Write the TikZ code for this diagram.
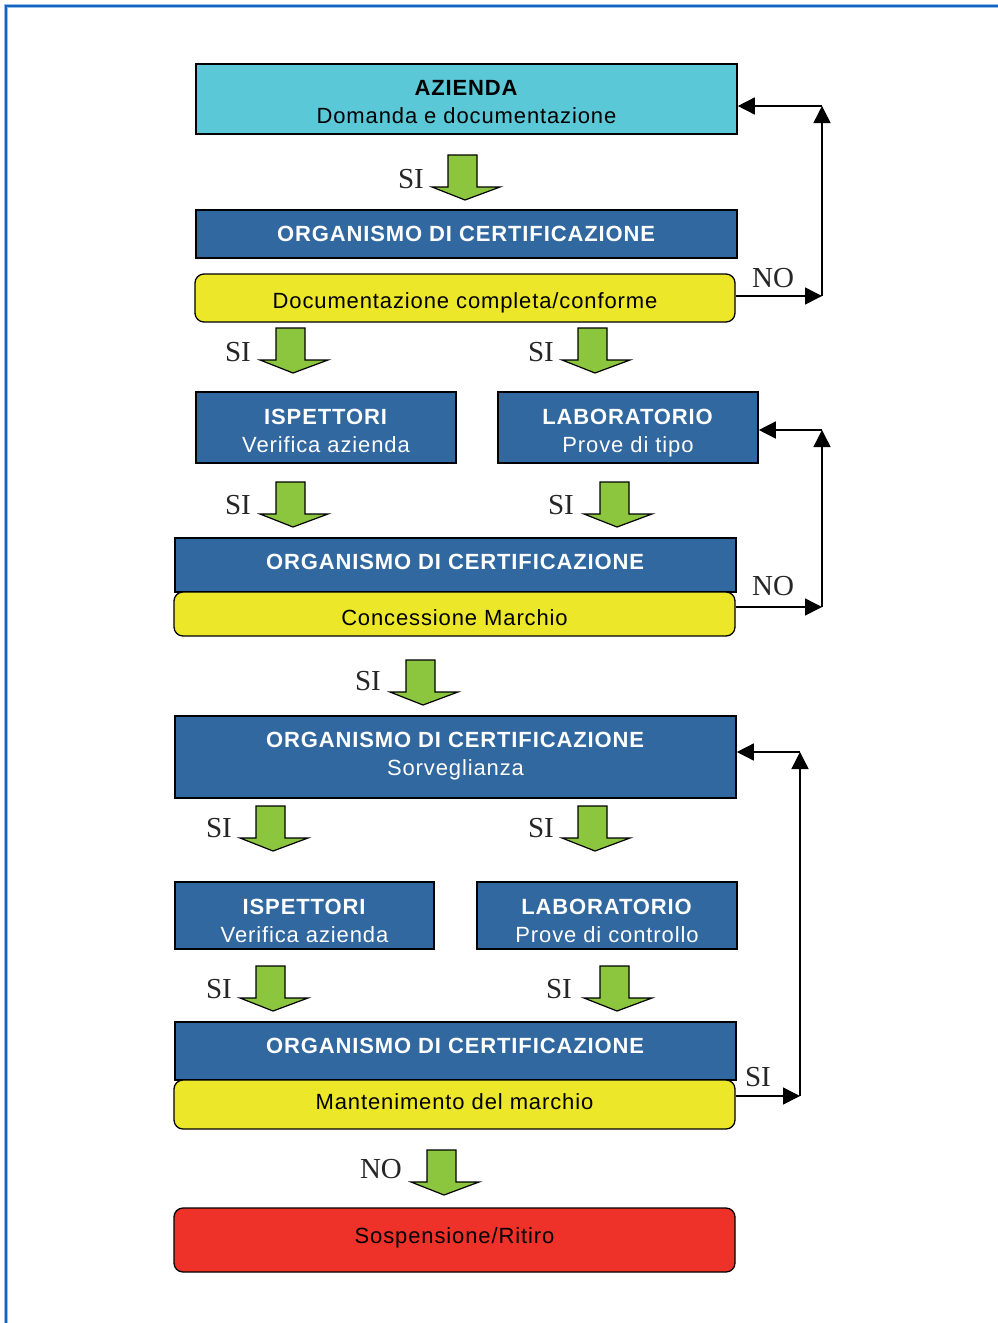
\documentclass[tikz,border=0pt]{standalone}
\usepackage{fontspec}
\setmainfont{Liberation Serif}
\newfontfamily\boxfont[LetterSpace=4]{Liberation Sans}
\usetikzlibrary{arrows.meta}
\definecolor{cyanbox}{RGB}{91,200,216}
\definecolor{bluebox}{RGB}{49,104,160}
\definecolor{yellowbox}{RGB}{237,231,41}
\definecolor{greenarr}{RGB}{140,198,63}
\definecolor{redbox}{RGB}{238,50,41}
\definecolor{frameblue}{RGB}{16,100,190}
\definecolor{framelight}{RGB}{150,190,230}
\tikzset{
  box/.style={draw=black, line width=1.6pt, inner sep=0pt},
  bluebx/.style={box, fill=bluebox},
  yelbx/.style={box, fill=yellowbox, rounded corners=9pt, line width=1.3pt},
  txt/.style={inner sep=0pt, text height=16pt, text depth=0pt, anchor=center,
    font=\boxfont\fontsize{22}{28}\selectfont},
  wtxt/.style={txt, text=white},
  lbl/.style={font=\fontsize{29}{29}\selectfont, text=black!85, inner sep=0pt},
  loop/.style={line width=1.5pt, -{Triangle[length=17pt,width=17pt]}},
  garr/.style={fill=greenarr, draw=black, line width=1.2pt, line join=miter},
}
\newcommand{\grarrow}[2]{% #1 = left x of head, #2 = top y
  \draw[garr] (#1+16,#2) -- (#1+45,#2) -- (#1+45,#2+32) -- (#1+68,#2+32)
     -- (#1+33,#2+45) -- (#1,#2+32) -- (#1+16,#2+32) -- cycle;}
\begin{document}
\begin{tikzpicture}[x=1pt,y=-1pt]
\useasboundingbox (0,0) rectangle (997,1323);
\fill[white] (0,0) rectangle (997,1323);
% frame
\draw[framelight, line width=4pt] (6,1330) -- (6,6) -- (1000,6);
\draw[frameblue, line width=2.4pt] (6,1330) -- (6,6) -- (1000,6);

% boxes
\node[box, fill=cyanbox, minimum width=541pt, minimum height=70pt] (az) at (466.5,99) {};
\node[txt] (az1) at (466.5,87) {\textbf{AZIENDA}};
\node[txt] (az2) at (466.5,115) {Domanda e documentazione};

\node[bluebx, minimum width=541pt, minimum height=48pt] (oc1) at (466.5,234) {};
\node[wtxt] (oc1t) at (466.5,233) {\textbf{ORGANISMO DI CERTIFICAZIONE}};
\node[yelbx, minimum width=540pt, minimum height=48pt] (doc) at (465,298) {};
\node[txt] (doct) at (465,300) {Documentazione completa/conforme};

\node[bluebx, minimum width=260pt, minimum height=71pt] (isp1) at (326,427.5) {};
\node[wtxt] (isp1a) at (326,416) {\textbf{ISPETTORI}};
\node[wtxt] (isp1b) at (326,444) {Verifica azienda};
\node[bluebx, minimum width=260pt, minimum height=71pt] (lab1) at (628,427.5) {};
\node[wtxt] (lab1a) at (628,416) {\textbf{LABORATORIO}};
\node[wtxt] (lab1b) at (628,444) {Prove di tipo};

\node[bluebx, minimum width=561pt, minimum height=54pt] (oc2) at (455.5,565) {};
\node[wtxt] (oc2t) at (455.5,561) {\textbf{ORGANISMO DI CERTIFICAZIONE}};
\node[yelbx, minimum width=561pt, minimum height=44pt] (conc) at (454.5,614) {};
\node[txt] (conct) at (454.5,617) {Concessione Marchio};

\node[bluebx, minimum width=561pt, minimum height=82pt] (oc3) at (455.5,757) {};
\node[wtxt] (oc3a) at (455.5,739) {\textbf{ORGANISMO DI CERTIFICAZIONE}};
\node[wtxt] (oc3b) at (455.5,767) {Sorveglianza};

\node[bluebx, minimum width=259pt, minimum height=67pt] (isp2) at (304.5,915.5) {};
\node[wtxt] (isp2a) at (304.5,906) {\textbf{ISPETTORI}};
\node[wtxt] (isp2b) at (304.5,934) {Verifica azienda};
\node[bluebx, minimum width=260pt, minimum height=67pt] (lab2) at (607,915.5) {};
\node[wtxt] (lab2a) at (607,906) {\textbf{LABORATORIO}};
\node[wtxt] (lab2b) at (607,934) {Prove di controllo};

\node[bluebx, minimum width=561pt, minimum height=58pt] (oc4) at (455.5,1051) {};
\node[wtxt] (oc4t) at (455.5,1045) {\textbf{ORGANISMO DI CERTIFICAZIONE}};
\node[yelbx, minimum width=561pt, minimum height=49pt] (mant) at (454.5,1104.5) {};
\node[txt] (mantt) at (454.5,1101) {Mantenimento del marchio};

\node[yelbx, fill=redbox, minimum width=561pt, minimum height=64pt] (sosp) at (454.5,1240) {};
\node[txt] (sospt) at (454.5,1235) {Sospensione/Ritiro};

% green arrows and labels
\grarrow{432}{155}
\node[lbl] (s1) at (411,179) {SI};
\grarrow{260}{328}
\node[lbl] (s2) at (238,352) {SI};
\grarrow{562}{328}
\node[lbl] (s3) at (541,352) {SI};
\grarrow{260}{482}
\node[lbl] (s4) at (238,505) {SI};
\grarrow{584}{482}
\node[lbl] (s5) at (561,505) {SI};
\grarrow{390}{660}
\node[lbl] (s6) at (368,681) {SI};
\grarrow{240}{806}
\node[lbl] (s7) at (219,828) {SI};
\grarrow{562}{806}
\node[lbl] (s8) at (541,828) {SI};
\grarrow{240}{966}
\node[lbl] (s9) at (219,989) {SI};
\grarrow{584}{966}
\node[lbl] (s10) at (559,989) {SI};
\grarrow{411}{1150}
\node[lbl] (n3) at (381,1169) {NO};

% feedback loops
\coordinate (a1) at (822,296);
\coordinate (a2) at (822,106);
\draw[loop] (doc.east |- a1) -- (a1);
\draw[loop] (a1) -- (a2);
\draw[loop] (a2) -- (az.east |- a2);
\node[lbl] (n1) at (773,278) {NO};

\coordinate (b1) at (822,607);
\coordinate (b2) at (822,430);
\draw[loop] (conc.east |- b1) -- (b1);
\draw[loop] (b1) -- (b2);
\draw[loop] (b2) -- (lab1.east |- b2);
\node[lbl] (n2) at (773,586) {NO};

\coordinate (c1) at (800,1096);
\coordinate (c2) at (800,752);
\draw[loop] (mant.east |- c1) -- (c1);
\draw[loop] (c1) -- (c2);
\draw[loop] (c2) -- (oc3.east |- c2);
\node[lbl] (s11) at (758,1077) {SI};
\end{tikzpicture}
\end{document}
